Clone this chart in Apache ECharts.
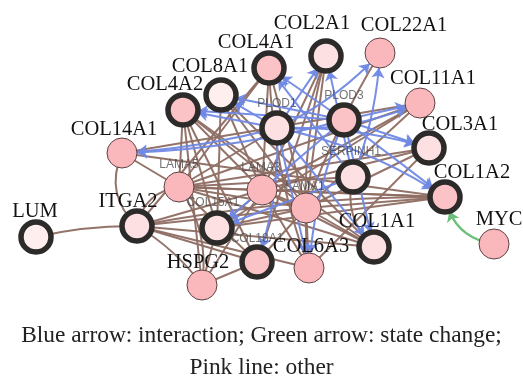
<!DOCTYPE html>
<html>
<head>
<meta charset="utf-8">
<script src="https://cdn.jsdelivr.net/npm/echarts@6/dist/echarts.min.js"></script>
<style>
  html, body { margin: 0; padding: 0; background: #ffffff; }
  #chart { width: 523px; height: 383px; }
</style>
</head>
<body>
<div id="chart"></div>
<script>
// ---- network data ----
const genes = ['LUM', 'ITGA2', 'COL14A1', 'COL4A2', 'COL8A1', 'COL4A1', 'COL2A1', 'COL22A1',
  'PLOD1', 'PLOD3', 'COL11A1', 'COL3A1', 'SERPINH1', 'COL1A2', 'MYC', 'LAMA5', 'LAMA3',
  'LAMA1', 'COL15A1', 'COL18A1', 'HSPG2', 'COL6A3', 'COL1A1'];

// query genes (drawn with a heavy ring)
const queryGenes = ['LUM', 'ITGA2', 'COL4A2', 'COL8A1', 'COL4A1', 'COL2A1', 'PLOD1', 'PLOD3',
  'COL3A1', 'SERPINH1', 'COL1A2', 'COL15A1', 'COL18A1', 'COL1A1'];

// alteration frequency class: 0 = lowest, 2 = highest
const geneLevel = {
  LUM: 0, ITGA2: 1, COL14A1: 2, COL4A2: 2, COL8A1: 0, COL4A1: 2, COL2A1: 1, COL22A1: 2,
  PLOD1: 1, PLOD3: 2, COL11A1: 2, COL3A1: 1, SERPINH1: 1, COL1A2: 2, MYC: 2, LAMA5: 2,
  LAMA3: 2, LAMA1: 2, COL15A1: 1, COL18A1: 2, HSPG2: 2, COL6A3: 2, COL1A1: 1
};

// genes whose names are shown in the small grey font
const minorLabels = ['PLOD1', 'PLOD3', 'SERPINH1', 'LAMA5', 'LAMA3', 'LAMA1', 'COL15A1', 'COL18A1'];

// interaction (directed)
const interactions = [
  ['PLOD1', 'COL14A1'], ['PLOD3', 'COL14A1'],
  ['PLOD1', 'COL4A2'], ['PLOD3', 'COL4A2'],
  ['PLOD1', 'COL8A1'], ['PLOD3', 'COL8A1'],
  ['PLOD3', 'COL4A1'], ['SERPINH1', 'COL4A1'],
  ['PLOD1', 'COL2A1'], ['SERPINH1', 'COL2A1'],
  ['PLOD1', 'COL22A1'], ['SERPINH1', 'COL22A1'],
  ['PLOD1', 'COL11A1'], ['PLOD3', 'COL11A1'],
  ['PLOD1', 'COL3A1'], ['PLOD3', 'COL3A1'],
  ['PLOD1', 'COL1A2'], ['PLOD3', 'COL1A2'],
  ['PLOD3', 'COL15A1'], ['SERPINH1', 'COL15A1'],
  ['PLOD1', 'COL18A1'],
  ['PLOD1', 'COL6A3'], ['PLOD3', 'COL6A3'],
  ['PLOD1', 'COL1A1'], ['PLOD3', 'COL1A1']
];

// state change (directed)
const stateChanges = [['MYC', 'COL1A2']];

// other associations (undirected)
const otherLinks = [
  ['LUM', 'ITGA2'], ['COL14A1', 'ITGA2'], ['ITGA2', 'LAMA5'], ['ITGA2', 'LAMA3'],
  ['ITGA2', 'LAMA1'], ['ITGA2', 'HSPG2'], ['ITGA2', 'COL18A1'], ['ITGA2', 'COL6A3'],
  ['ITGA2', 'COL1A1'], ['ITGA2', 'COL4A1'],
  ['HSPG2', 'LAMA5'], ['HSPG2', 'COL15A1'], ['HSPG2', 'COL18A1'], ['HSPG2', 'LAMA3'],
  ['HSPG2', 'COL4A2'],
  ['LAMA5', 'COL14A1'], ['LAMA5', 'COL4A2'], ['LAMA5', 'PLOD1'], ['LAMA5', 'COL3A1'],
  ['LAMA5', 'COL1A2'], ['LAMA5', 'LAMA3'], ['LAMA5', 'LAMA1'], ['LAMA5', 'SERPINH1'],
  ['LAMA5', 'COL11A1'], ['LAMA5', 'COL4A1'], ['LAMA5', 'COL18A1'],
  ['LAMA3', 'COL4A1'], ['LAMA3', 'COL4A2'], ['LAMA3', 'COL2A1'], ['LAMA3', 'COL11A1'],
  ['LAMA3', 'COL1A2'], ['LAMA3', 'COL1A1'], ['LAMA3', 'COL6A3'], ['LAMA3', 'LAMA1'],
  ['LAMA3', 'COL15A1'], ['LAMA3', 'COL3A1'], ['LAMA3', 'COL8A1'],
  ['LAMA1', 'COL4A1'], ['LAMA1', 'COL4A2'], ['LAMA1', 'COL8A1'], ['LAMA1', 'COL11A1'],
  ['LAMA1', 'COL1A2'], ['LAMA1', 'COL6A3'], ['LAMA1', 'COL18A1'], ['LAMA1', 'COL22A1'],
  ['LAMA1', 'COL1A1'], ['LAMA1', 'COL3A1'], ['LAMA1', 'COL2A1'],
  ['COL2A1', 'COL6A3'], ['COL2A1', 'COL18A1'],
  ['COL4A2', 'COL15A1'], ['COL4A2', 'COL18A1'], ['COL4A2', 'COL1A1'],
  ['COL8A1', 'COL1A1'], ['COL8A1', 'COL15A1'],
  ['COL11A1', 'COL15A1'], ['COL11A1', 'COL14A1'],
  ['COL1A2', 'COL15A1'], ['COL1A2', 'COL14A1'], ['COL1A2', 'ITGA2'],
  ['COL1A1', 'SERPINH1'], ['COL1A1', 'LAMA5'],
  ['COL15A1', 'LAMA1'], ['COL6A3', 'COL4A1'], ['COL6A3', 'COL3A1']
];

// caption lines under the network
const captionLines = ['Blue arrow: interaction; Green arrow: state change;', 'Pink line: other'];

// ---- drawing layout (node centres and label placement, in page pixels) ----
const nodePos = {
  LUM: [36, 237], ITGA2: [137, 226], COL14A1: [122, 153], COL4A2: [183, 110],
  COL8A1: [221, 95], COL4A1: [269, 68], COL2A1: [326, 56], COL22A1: [380, 53],
  PLOD1: [277, 128], PLOD3: [344, 120], COL11A1: [420, 103], COL3A1: [429, 148],
  SERPINH1: [353, 177], COL1A2: [445, 197], MYC: [494, 244], LAMA5: [179, 187],
  LAMA3: [262, 190], LAMA1: [306, 208], COL15A1: [217, 228], COL18A1: [257, 262],
  HSPG2: [202, 285], COL6A3: [309, 268], COL1A1: [374, 247]
};
const labelShift = {
  LUM: [-1, -25], ITGA2: [-9, -24], COL14A1: [-8, -23], COL4A2: [-18, -25],
  COL8A1: [-11, -28], COL4A1: [-13, -25], COL2A1: [-14, -32], COL22A1: [24, -27],
  PLOD1: [0, -24], PLOD3: [0, -24], COL11A1: [13, -24], COL3A1: [31, -23],
  SERPINH1: [-2, -25], COL1A2: [27, -24], MYC: [5, -24], LAMA5: [0, -22],
  LAMA3: [-1, -22], LAMA1: [-1, -21], COL15A1: [-4, -25], COL18A1: [0, -23],
  HSPG2: [-4, -22], COL6A3: [2, -21], COL1A1: [3, -25]
};

const fillByLevel = ['#ffeeee', '#fde0e2', '#fbb8bc'];
const ringFillByLevel = ['#ffeeee', '#fde0e2', '#fcc3c6'];

const nodes = genes.map(function (g) {
  const isQuery = queryGenes.indexOf(g) >= 0;
  const minor = minorLabels.indexOf(g) >= 0;
  const lvl = geneLevel[g];
  return {
    name: g,
    value: nodePos[g],
    symbol: 'circle',
    symbolSize: 30,
    itemStyle: isQuery
      ? { color: ringFillByLevel[lvl], borderColor: '#2d2a2a', borderWidth: 5.5 }
      : { color: fillByLevel[lvl], borderColor: '#5b4242', borderWidth: 1 },
    label: minor
      ? {
          show: true, position: 'inside', offset: labelShift[g],
          fontFamily: 'Liberation Sans', fontSize: 12, color: 'rgba(70,70,70,0.75)'
        }
      : {
          show: true, position: 'inside', offset: labelShift[g],
          fontFamily: 'Liberation Serif', fontSize: 20.5, color: '#111111'
        }
  };
});

// slight bends on a few edges
const bend = {
  'LUM-ITGA2': 0.06, 'COL14A1-ITGA2': -0.35, 'ITGA2-LAMA5': 0.35, 'HSPG2-LAMA5': -0.2,
  'COL1A1-SERPINH1': 0.3, 'MYC-COL1A2': 0.35, 'PLOD1-COL14A1': 0.05, 'PLOD3-COL14A1': 0.06,
  'PLOD1-COL11A1': -0.12, 'PLOD1-COL3A1': 0.08, 'PLOD1-COL22A1': -0.1, 'SERPINH1-COL22A1': -0.08,
  'PLOD1-COL1A2': 0.1, 'PLOD1-COL18A1': 0.1, 'PLOD3-COL6A3': -0.08, 'ITGA2-HSPG2': 0.1,
  'COL2A1-COL6A3': -0.1, 'COL1A2-ITGA2': -0.05, 'LAMA1-COL22A1': 0.05, 'COL6A3-COL4A1': 0.08
};

const links = [];
otherLinks.forEach(function (e) {
  links.push({
    source: e[0], target: e[1],
    symbol: ['none', 'none'],
    lineStyle: { color: '#8e6d62', width: 2, opacity: 0.95, curveness: bend[e[0] + '-' + e[1]] || 0 }
  });
});
interactions.forEach(function (e) {
  links.push({
    source: e[0], target: e[1],
    symbol: ['none', 'arrow'], symbolSize: [0, 10],
    lineStyle: { color: '#6f88e4', width: 2, opacity: 0.95, curveness: bend[e[0] + '-' + e[1]] || 0 }
  });
});
stateChanges.forEach(function (e) {
  links.push({
    source: e[0], target: e[1],
    symbol: ['none', 'arrow'], symbolSize: [0, 10],
    lineStyle: { color: '#6cc07c', width: 2.5, opacity: 1, curveness: bend[e[0] + '-' + e[1]] || 0 }
  });
});

const chart = echarts.init(document.getElementById('chart'), null, { renderer: 'canvas' });
chart.setOption({
  animation: false,
  backgroundColor: '#ffffff',
  graphic: captionLines.map(function (t, i) {
    return {
      type: 'text',
      left: 'center',
      top: 324 + i * 32.5,
      style: {
        text: t,
        fontFamily: 'Liberation Serif',
        fontSize: 23.4,
        fill: '#222222'
      }
    };
  }),
  grid: { left: 0, right: 0, top: 0, bottom: 0 },
  xAxis: { type: 'value', min: 0, max: 523, show: false },
  yAxis: { type: 'value', min: 0, max: 383, inverse: true, show: false },
  series: [{
    type: 'graph',
    coordinateSystem: 'cartesian2d',
    layout: 'none',
    roam: false,
    data: nodes,
    links: links,
    edgeSymbol: ['none', 'none'],
    lineStyle: { color: '#8e6d62', width: 2 },
    emphasis: { disabled: true }
  }]
});
</script>
</body>
</html>
